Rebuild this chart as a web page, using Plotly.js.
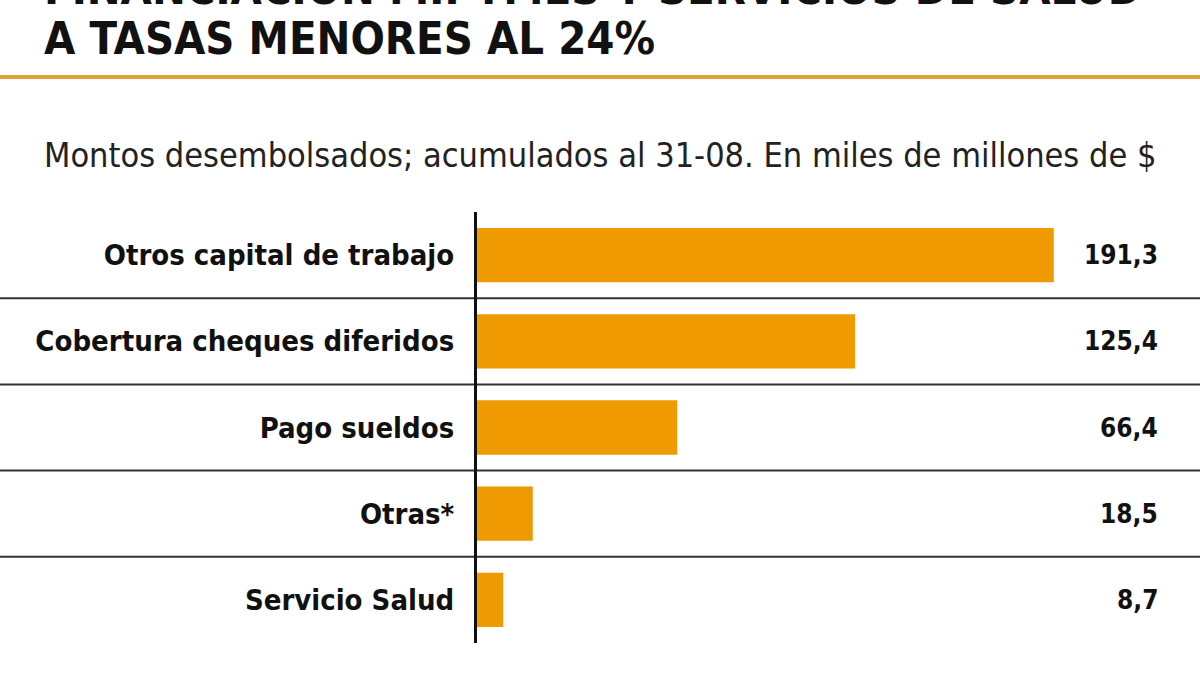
<!DOCTYPE html>
<html><head><meta charset="utf-8">
<script src="https://cdn.plot.ly/plotly-3.0.1.min.js"></script>
<style>html,body{margin:0;padding:0;background:#fff}#chart{width:1200px;height:675px}</style>
</head><body><div id="chart"></div>
<script>
const categories = ["Otros capital de trabajo","Cobertura cheques diferidos","Pago sueldos","Otras*","Servicio Salud"];
const values = [191.3, 125.4, 66.4, 18.5, 8.7];
const valueLabels = ["191,3","125,4","66,4","18,5","8,7"];
const titleTop = "FINANCIACIÓN MIPYMES Y SERVICIOS DE SALUD";
const titleMain = "A TASAS MENORES AL 24%";
const subtitle = "Montos desembolsados; acumulados al 31-08. En miles de millones de $";

const W = 1200, H = 675, L = 477, R = 120, T = 212, B = 32;
const pw = W - L - R, ph = H - T - B;
const px = x => (x - L) / pw;
const py = y => 1 + (T - y) / ph;
const COND = "'DejaVu Sans Condensed','Liberation Sans Narrow',sans-serif";

const annotations = [
  {text: titleTop, xref:'paper', yref:'paper', x: px(42), y: py(17), xanchor:'left', yanchor:'bottom', showarrow:false,
   font:{family:COND, size:45, color:'#111', weight:700}},
  {text: titleMain, xref:'paper', yref:'paper', x: px(42), y: py(67), xanchor:'left', yanchor:'bottom', showarrow:false,
   font:{family:COND, size:45, color:'#111', weight:700}},
  {text: subtitle, xref:'paper', yref:'paper', x: px(42), y: py(155), xanchor:'left', yanchor:'middle', showarrow:false,
   font:{family:COND, size:34, color:'#222'}}
];
categories.forEach((c, i) => {
  annotations.push({text: valueLabels[i], xref:'paper', yref:'y', x: px(1160), y: c, xanchor:'right', yanchor:'middle',
    showarrow:false, font:{family:COND, size:26, color:'#111', weight:700}});
});

const shapes = [
  {type:'line', xref:'paper', yref:'paper', x0: px(0), x1: px(1200), y0: py(77), y1: py(77), line:{color:'#E0A03A', width:4}}
];
for (let i = 0; i < categories.length - 1; i++) {
  shapes.push({type:'line', xref:'paper', yref:'y', x0: px(0), x1: px(1200), y0: i + 0.5, y1: i + 0.5,
    line:{color:'#333', width:2}, layer:'below'});
}

const data = [{
  type:'bar', orientation:'h', x: values, y: categories,
  marker:{color:'#EE9A00'}, hoverinfo:'none'
}];

const layout = {
  width: W, height: H, margin:{l:L, r:R, t:T, b:B},
  paper_bgcolor:'#fff', plot_bgcolor:'#fff', showlegend:false, bargap:0.37,
  xaxis:{range:[0,200], visible:false, fixedrange:true},
  yaxis:{autorange:'reversed', showline:true, linecolor:'#111', linewidth:3, showgrid:false, zeroline:false,
    ticks:'', ticklabelstandoff:14, tickfont:{family:COND, size:29, color:'#111', weight:700}},
  annotations, shapes
};
Plotly.newPlot('chart', data, layout, {staticPlot:true});
</script></body></html>
